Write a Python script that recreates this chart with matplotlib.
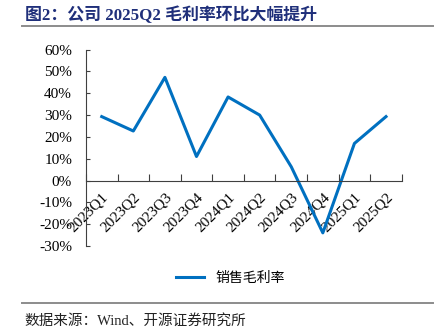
import matplotlib
matplotlib.use("Agg")
import matplotlib.pyplot as plt
from matplotlib.lines import Line2D
from matplotlib.ticker import FuncFormatter

plt.rcParams['font.family'] = ['Liberation Serif', 'Noto Sans CJK SC', 'DejaVu Sans']

quarters = ['2023Q1', '2023Q2', '2023Q3', '2023Q4', '2024Q1', '2024Q2',
            '2024Q3', '2024Q4', '2025Q1', '2025Q2']
gross_margin = [29.3, 22.7, 47.3, 11.0, 38.3, 30.0, 6.3, -24.0, 17.0, 29.3]

fig = plt.figure(figsize=(4.43, 3.31), dpi=100)
ax = fig.add_axes([0.194, 0.257, 0.713, 0.593])

x = list(range(len(quarters)))
ax.plot(x, gross_margin, color='#0070C0', lw=2.2, label='销售毛利率')

ax.set_xlim(-0.5, len(quarters) - 0.5)
ax.set_ylim(-30, 60)
ax.set_yticks(range(-30, 61, 10))
ax.yaxis.set_major_formatter(FuncFormatter(lambda v, p: f'{v:.0f}%'))

ax.spines['top'].set_visible(False)
ax.spines['right'].set_visible(False)
ax.spines['bottom'].set_position(('data', 0))
for s in ['left', 'bottom']:
    ax.spines[s].set_color('#404040')
    ax.spines[s].set_linewidth(0.8)

ax.set_xticks([i - 0.5 for i in range(len(quarters) + 1)], minor=False)
ax.set_xticklabels([])
ax.set_xticks(x, minor=True)
ax.set_xticklabels(quarters, minor=True, rotation=45, ha='right', va='top',
                   rotation_mode='anchor', fontsize=11)
ax.tick_params(axis='x', which='major', direction='in', length=5, color='#404040')
ax.tick_params(axis='x', which='minor', length=0, pad=7)
ax.tick_params(axis='y', direction='in', length=3, color='#404040',
               labelsize=11, pad=10)

fig.legend(loc='center', bbox_to_anchor=(0.52, 0.16), frameon=False,
           handlelength=2.0,
           prop={'family': ['Noto Sans CJK SC'], 'size': 10})

fig.text(0.056, 0.955, '图2：公司 2025Q2 毛利率环比大幅提升', fontsize=12.2,
         fontweight='bold', color='#1f2f7a', va='center', ha='left',
         family=['Liberation Serif', 'Noto Sans CJK SC'])
fig.add_artist(Line2D([0.05, 0.978], [0.921, 0.921], color='#8c8c8c', lw=1.4))
fig.add_artist(Line2D([0.05, 0.978], [0.085, 0.085], color='#8c8c8c', lw=1.4))
fig.text(0.056, 0.032, '数据来源：Wind、开源证券研究所', fontsize=10.5,
         color='#222222', va='center', ha='left',
         family=['Liberation Serif', 'Noto Sans CJK SC'])

fig.savefig('out.png', dpi=100)
